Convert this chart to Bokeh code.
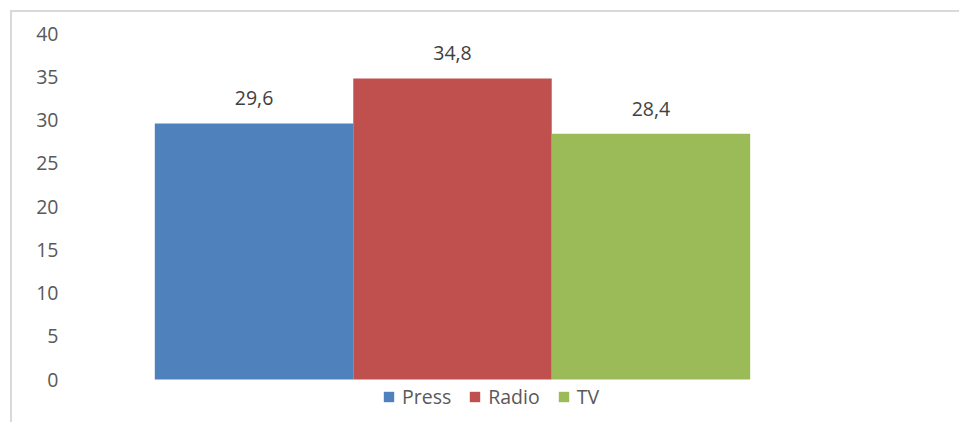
from bokeh.plotting import figure
from bokeh.models import (FactorRange, Range1d, FixedTicker, Legend, LegendItem,
                          ColumnDataSource)
from bokeh.core.properties import value
from bokeh.embed import file_html
from bokeh.resources import INLINE

categories = ["Press", "Radio", "TV"]
values = [29.6, 34.8, 28.4]
colors = ["#4F81BD", "#C0504D", "#9BBB59"]
y_ticks = [0, 5, 10, 15, 20, 25, 30, 35, 40]
labels = [f"{v:.1f}".replace(".", ",") for v in values]

FONT = "Open Sans"

src = ColumnDataSource(dict(cat=categories, val=values, color=colors, label=labels))

p = figure(
    width=949, height=412,
    x_range=FactorRange(factors=categories, range_padding=0.3, range_padding_units="percent"),
    y_range=Range1d(-5.2, 40),
    x_axis_location=None,
    output_backend="svg", toolbar_location=None,
    min_border_left=53, min_border_top=21, min_border_bottom=0, min_border_right=122,
)
p.styles = {"margin-left": "10px", "margin-top": "10px",
            "border-left": "2px solid #D9D9D9", "border-top": "2px solid #D9D9D9"}
p.outline_line_color = None
p.xgrid.visible = False
p.ygrid.visible = False

ax = p.yaxis[0]
ax.ticker = FixedTicker(ticks=y_ticks)
ax.axis_line_color = None
ax.major_tick_line_color = None
ax.minor_tick_line_color = None
ax.major_tick_out = 0
ax.major_tick_in = 0
ax.major_label_standoff = 7
ax.major_label_text_font = FONT
ax.major_label_text_font_size = "19.5px"
ax.major_label_text_color = "#595959"

r = p.vbar(x="cat", top="val", width=1.0, fill_color="color", line_color=None, source=src)

p.text(x="cat", y="val", text="label", source=src, text_align="center", text_baseline="middle",
       y_offset=-25, text_font=value(FONT), text_font_size="19.5px", text_color="#404040")

items = [LegendItem(label=c, renderers=[r], index=i) for i, c in enumerate(categories)]
legend = Legend(items=items, orientation="horizontal", location=(317, 14),
                glyph_width=13, glyph_height=13, label_standoff=7, spacing=17,
                padding=2, margin=0, border_line_color=None, background_fill_alpha=0,
                label_text_font=FONT, label_text_font_size="19.5px", label_text_color="#595959")
p.add_layout(legend)

open("out.html", "w").write(file_html(p, INLINE))
